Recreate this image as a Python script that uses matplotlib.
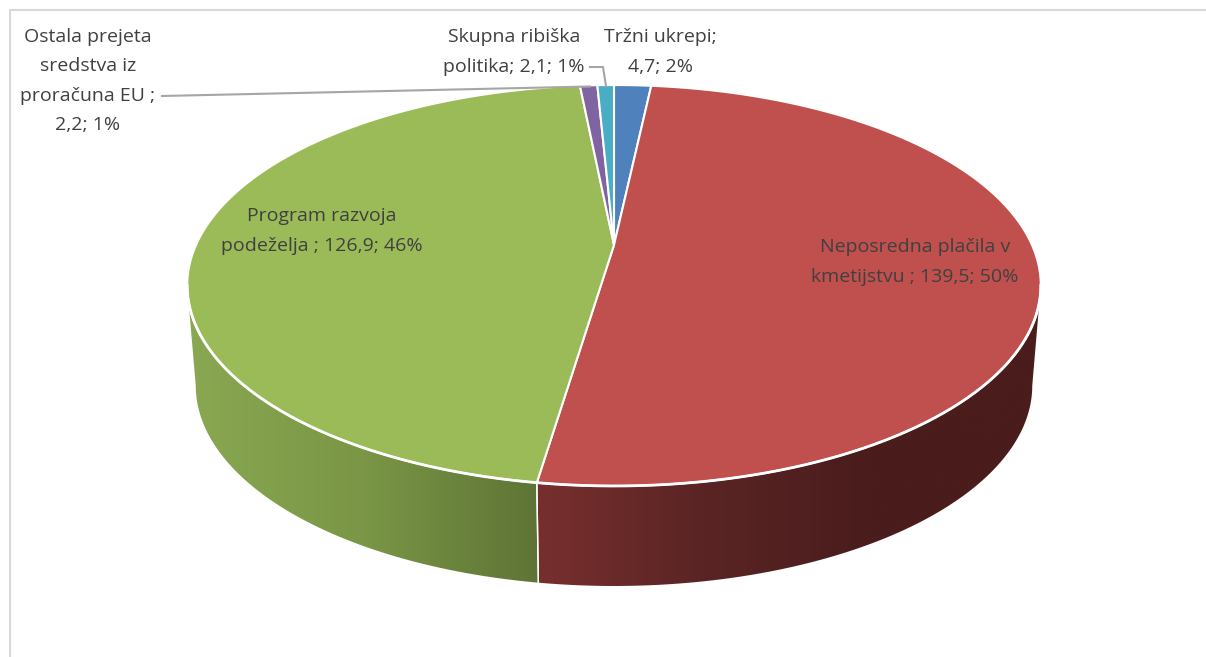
import numpy as np
import matplotlib
matplotlib.use("Agg")
import matplotlib.pyplot as plt
from matplotlib.patches import Polygon
from matplotlib.colors import LinearSegmentedColormap
from matplotlib import font_manager

# ---- data ----
categories = ["Tržni ukrepi", "Neposredna plačila v kmetijstvu ", "Program razvoja podeželja ",
              "Ostala prejeta sredstva iz proračuna EU ", "Skupna ribiška politika"]
values = [4.7, 139.5, 126.9, 2.2, 2.1]
percents = [2, 50, 46, 1, 1]
label_texts = ["Tržni ukrepi;\n4,7; 2%",
               "Neposredna plačila v\nkmetijstvu ; 139,5; 50%",
               "Program razvoja\npodeželja ; 126,9; 46%",
               "Ostala prejeta\nsredstva iz\nproračuna EU ;\n2,2; 1%",
               "Skupna ribiška\npolitika; 2,1; 1%"]
top_colors = ["#4F81BD", "#C0504D", "#9BBB59", "#8064A2", "#4BACC6"]
side_light = ["#3b6394", "#772f2e", "#8aa852", "#5f4a7a", "#388196"]
side_dark = ["#2a4669", "#4a1c1c", "#5e7435", "#413352", "#265866"]

# ---- font ----
avail = {f.name for f in font_manager.fontManager.ttflist}
fam = [f for f in ["Open Sans", "DejaVu Sans"] if f in avail]
plt.rcParams['font.family'] = fam

W, H = 1206, 657
fig = plt.figure(figsize=(W / 100, H / 100), dpi=100)
ax = fig.add_axes([0, 0, 1, 1])
ax.set_xlim(0, W)
ax.set_ylim(H, 0)
ax.axis("off")

# frame
ax.plot([10, 10, W + 5], [H + 5, 10, 10], color="#d9d9d9", lw=1.5, zorder=0)

# projection parameters (perspective of a disk)
cx, cy = 614, 245
A, B, k = 418.0, 192.3, 0.202
depth = 100
A2 = A * 0.98


def top_pt(th):
    X, Z = np.sin(th), np.cos(th)
    p = 1 + k * Z
    return cx + A * X / p, cy - B * Z / p


def bot_pt(th):
    X, Z = np.sin(th), np.cos(th)
    p = 1 + k * Z
    return cx + A2 * X / p, cy + depth - B * Z / p


total = sum(values)
bounds = np.concatenate([[0], np.cumsum(values)]) / total * 2 * np.pi

th_vis1 = np.pi / 2 + np.arcsin(k)
th_vis2 = 3 * np.pi / 2 - np.arcsin(k)

# sides
for i in range(len(values)):
    a0, a1 = max(bounds[i], th_vis1), min(bounds[i + 1], th_vis2)
    if a1 <= a0:
        continue
    t = np.linspace(a0, a1, 200)
    tx, ty = top_pt(t)
    bx, by = bot_pt(t)
    xs = np.concatenate([tx, bx[::-1]])
    ys = np.concatenate([ty, by[::-1]])
    poly = Polygon(np.column_stack([xs, ys]), closed=True, facecolor="none", edgecolor="none")
    ax.add_patch(poly)
    x0, x1 = xs.min(), xs.max()
    if i == 1:
        cmap = LinearSegmentedColormap.from_list("s", [side_light[i], "#5a2424", side_dark[i], side_dark[i]])
    else:
        cmap = LinearSegmentedColormap.from_list("s", [side_light[i], "#7a9646", side_dark[i]])
    grad = np.linspace(0, 1, 256).reshape(1, -1)
    im = ax.imshow(grad, cmap=cmap, extent=[x0, x1, ys.max(), ys.min()], aspect="auto",
                   interpolation="bilinear", zorder=1)
    im.set_clip_path(poly)
    # seam line on side
    for a in (bounds[i], bounds[i + 1]):
        if th_vis1 < a < th_vis2:
            p1, p2 = top_pt(a), bot_pt(a)
            ax.plot([p1[0], p2[0]], [p1[1], p2[1]], color="white", lw=1.0, zorder=2)

ax.set_xlim(0, W)
ax.set_ylim(H, 0)

# top faces
for i in range(len(values)):
    t = np.linspace(bounds[i], bounds[i + 1], max(10, int(400 * values[i] / total)))
    tx, ty = top_pt(t)
    xs = np.concatenate([[cx], tx])
    ys = np.concatenate([[cy], ty])
    ax.add_patch(Polygon(np.column_stack([xs, ys]), closed=True, facecolor=top_colors[i],
                         edgecolor="white", lw=1.5, joinstyle="round", zorder=3))

# rim highlight
t = np.linspace(th_vis1, th_vis2, 300)
tx, ty = top_pt(t)
ax.plot(tx, ty, color="white", lw=2.0, zorder=4)

# labels
txt_color = "#404040"
fs = 14
label_pos = [(660, 52), (915, 262), (322, 231), (88, 81), (514, 52)]
for i, lab in enumerate(label_texts):
    ax.text(label_pos[i][0], label_pos[i][1], lab, ha="center", va="center", fontsize=fs,
            color=txt_color, linespacing=1.8, zorder=6)

# leader lines
ax.plot([162, 590], [96, 86.5], color="#a6a6a6", lw=1.5, zorder=5)
ax.plot([590, 603, 606], [67, 67, 86], color="#a6a6a6", lw=1.5, zorder=5)

fig.savefig("out.png", dpi=100)
